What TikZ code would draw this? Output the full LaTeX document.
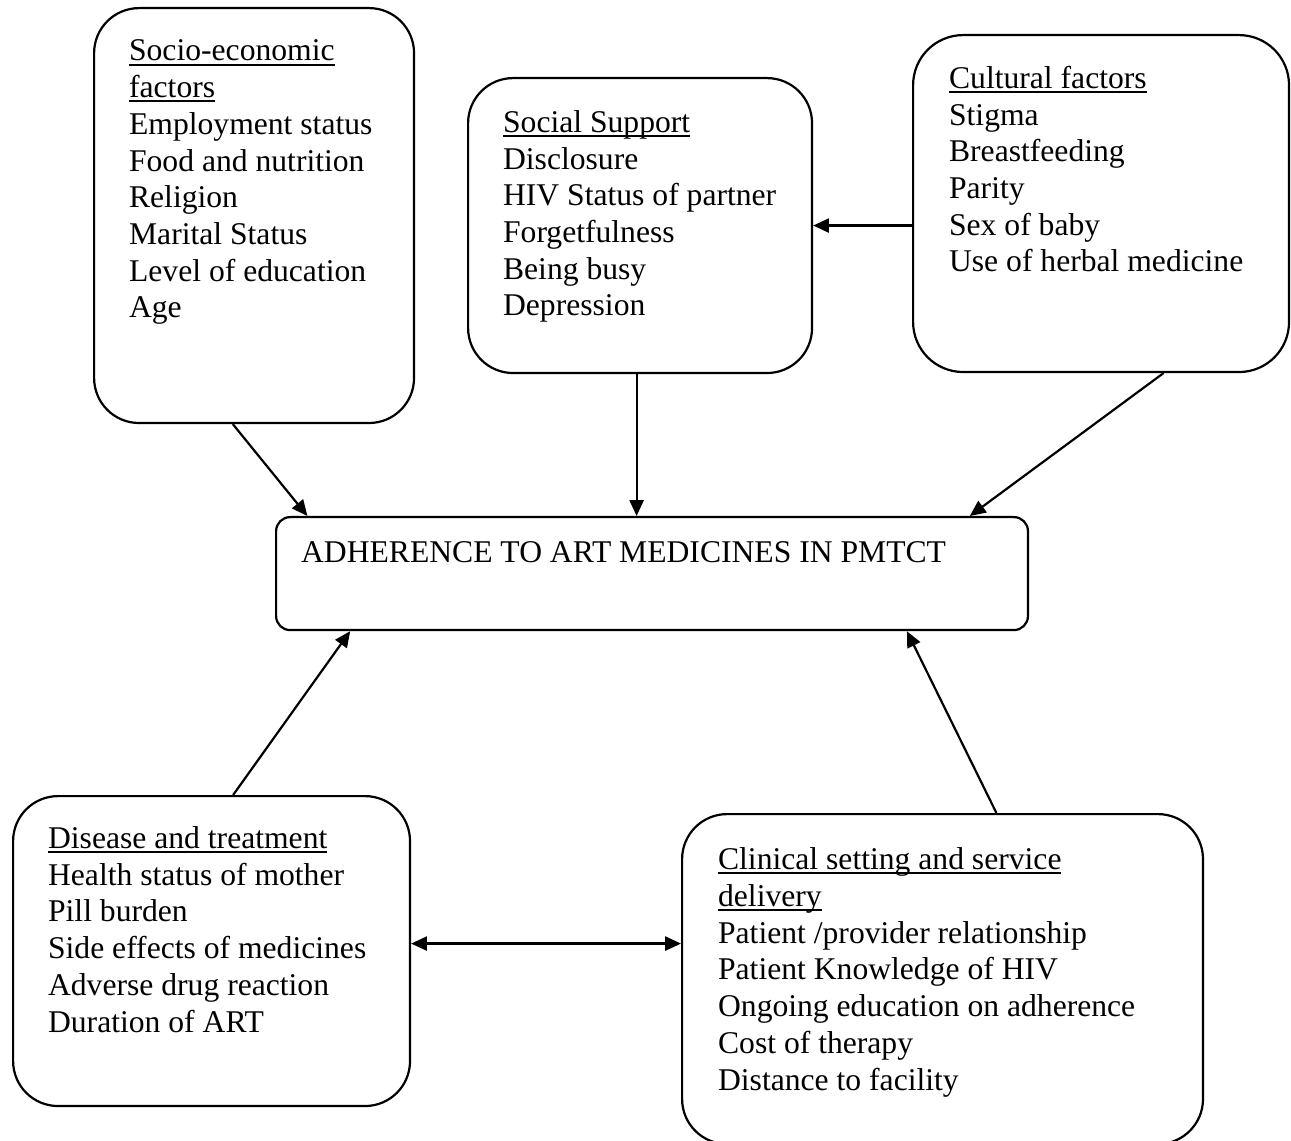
\documentclass[tikz,border=0pt]{standalone}
\usepackage{fontspec}
\setmainfont{Liberation Serif}
\usetikzlibrary{arrows.meta,calc}
\newcommand\hdline[1]{\setbox0\hbox{#1}\rlap{\rule[-2.6pt]{\wd0}{1pt}}\box0}
\tikzset{
  box/.style={draw, anchor=north west, inner sep=0pt, rounded corners=0.9cm},
  txt/.style={anchor=base west, align=left, inner sep=0pt, font=\fontsize{18}{20.9}\selectfont},
  link/.style={-{Triangle[length=9pt,width=8pt]}},
  twoway/.style={{Triangle[length=9pt,width=8pt]}-{Triangle[length=9pt,width=8pt]}},
}

\begin{document}
\begin{tikzpicture}[x=0.02cm, y=-0.02cm, line width=1.25pt]
  \useasboundingbox (0,0) rectangle (1291,1141);
  % factor boxes
  \node[box, minimum width=6.40cm, minimum height=8.30cm] (socio) at (93,7) {};
  \node[box, minimum width=6.88cm, minimum height=5.90cm] (social) at (467,77) {};
  \node[box, minimum width=7.52cm, minimum height=6.74cm, rounded corners=1cm] (cultural) at (912,34) {};
  \node[box, minimum width=15.04cm, minimum height=2.26cm, rounded corners=0.28cm] (central) at (275,516) {};
  \node[box, minimum width=7.94cm, minimum height=6.20cm] (disease) at (12,795) {};
  \node[box, minimum width=10.42cm, minimum height=6.60cm] (clinical) at (681,813) {};
  % texts (placed at the baseline of their last line)
  \node[txt] (socioText) at (128,318) {\hdline{Socio-economic}\\\hdline{factors}\\Employment status\\Food and nutrition\\Religion\\Marital Status\\Level of education\\Age};
  \node[txt] (socialText) at (502,316) {\hdline{Social Support}\\Disclosure\\HIV Status of partner\\Forgetfulness\\Being busy\\Depression};
  \node[txt] (culturalText) at (948,272) {\hdline{Cultural factors}\\Stigma\\Breastfeeding\\Parity\\Sex of baby\\Use of herbal medicine};
  \node[txt] (centralText) at (300,563) {ADHERENCE TO ART MEDICINES IN PMTCT};
  \node[txt] (diseaseText) at (47,1032) {\hdline{Disease and treatment}\\Health status of mother\\Pill burden\\Side effects of medicines\\Adverse drug reaction\\Duration of ART};
  \node[txt] (clinicalText) at (717,1090) {\hdline{Clinical setting and service}\\\hdline{delivery}\\Patient /provider relationship\\Patient Knowledge of HIV\\Ongoing education on adherence\\Cost of therapy\\Distance to facility};
  % arrows
  \coordinate (supBot) at ($(social.south west)!0.49!(social.south east)$);
  \coordinate (disEast) at ($(disease.north east)!0.476!(disease.south east)$);
  \draw[link] ($(socio.south west)!0.434!(socio.south east)$) -- ($(central.north west)!0.043!(central.north east)$);
  \draw[link] (supBot) -- (supBot |- central.north);
  \draw[link] ($(cultural.south west)!0.665!(cultural.south east)$) -- ($(central.north west)!0.9215!(central.north east)$);
  \draw[link] (cultural.west |- social.east) -- (social.east);
  \draw[link] ($(disease.north west)!0.554!(disease.north east)$) -- ($(central.south west)!0.0997!(central.south east)$);
  \draw[link] ($(clinical.north west)!0.603!(clinical.north east)$) -- ($(central.south west)!0.838!(central.south east)$);
  \draw[twoway] (disEast) -- (disEast -| clinical.west);
\end{tikzpicture}
\end{document}
